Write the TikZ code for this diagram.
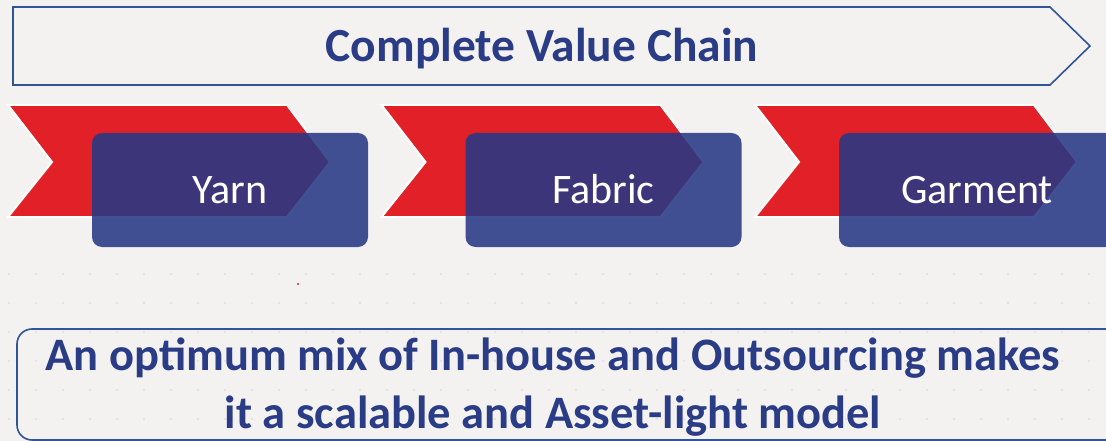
\documentclass[tikz,border=0pt]{standalone}
\usepackage{fontspec}
\setmainfont{Carlito}
\definecolor{bg}{RGB}{244,242,240}
\definecolor{dotc}{RGB}{226,223,220}
\definecolor{outl}{RGB}{47,85,151}
\definecolor{txtblue}{RGB}{43,60,135}
\definecolor{chevred}{RGB}{225,32,39}
\definecolor{boxblue}{RGB}{39,57,133}
\tikzset{
  redchev/.style={fill=chevred, draw=white, line width=2pt, line join=miter},
  stagebox/.style={fill=boxblue, fill opacity=0.88, rounded corners=10pt},
  stagetext/.style={text=white, font=\fontsize{42}{48}\selectfont, anchor=base},
  outlinebox/.style={draw=outl, line width=1.6pt},
  bodytext/.style={text=txtblue, font=\fontsize{46.5}{58}\selectfont\bfseries, anchor=base},
}
\begin{document}
\begin{tikzpicture}[x=1pt,y=-1pt]
\useasboundingbox (0,0) rectangle (1106,441);
\fill[bg] (0,0) rectangle (1106,441);
% faint dot grid
\foreach \i in {0,...,40} {
  \foreach \j in {0,...,6} {
    \fill[dotc] (9+27*\i, 274+29*\j) circle (1.1pt);
  }
}
% top arrow
\draw[outlinebox, line join=miter] (13,7) -- (1050,7) -- (1090,46) -- (1050,85) -- (13,85) -- cycle;
\node[text=txtblue, font=\fontsize{47.5}{56}\selectfont\bfseries, anchor=base] (title) at (542,62) {Complete Value Chain};
% stages
\foreach \k/\name/\lab in {0/yarn/Yarn,1/fabric/Fabric,2/garment/Garment} {
  \pgfmathsetmacro{\xo}{8+373.5*\k}
  \draw[redchev] (\xo,105) -- (\xo+279,105) -- (\xo+322,162) -- (\xo+279,217) -- (\xo,217) -- (\xo+44,162) -- cycle;
  \fill[stagebox] (\xo+84,133) rectangle (\xo+360,247);
  \node[stagetext] (\name) at (\xo+222,203) {\lab};
}
% tiny red dot
\fill[chevred] (298,284) circle (1.2pt);
% bottom box
\draw[outlinebox, rounded corners=15pt] (1120,329) -- (17,329) -- (17,440) -- (1120,440);
\node[bodytext] (summary1) at (553,370) {An optimum mix of In-house and Outsourcing makes};
\node[bodytext] (summary2) at (553,428) {it a scalable and Asset-light model};
\end{tikzpicture}
\end{document}
